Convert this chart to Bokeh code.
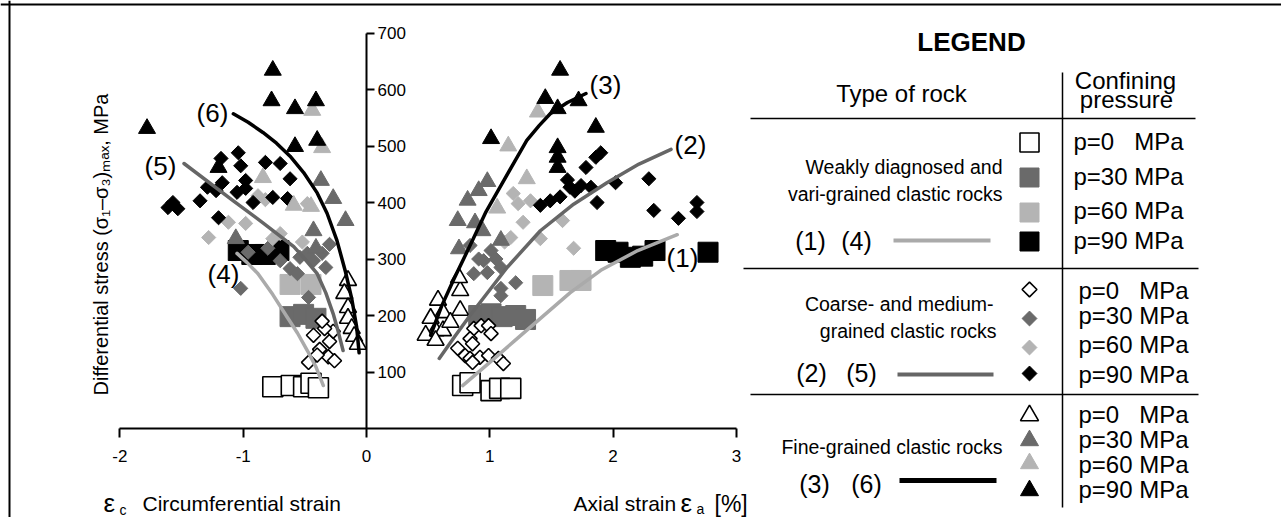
import numpy as np
from bokeh.plotting import figure
from bokeh.models import LinearAxis, FixedTicker, Range1d, Span, Label
from bokeh.core.properties import value
from bokeh.embed import file_html
from bokeh.resources import INLINE

# ---------------- data ----------------
# x: strain in %, negative = circumferential strain, positive = axial strain
# y: differential stress (sigma1 - sigma3)max in MPa
pressures = [0, 30, 60, 90]
pressure_labels = ["p=0\u00a0\u00a0\u00a0MPa", "p=30 MPa", "p=60 MPa", "p=90 MPa"]
rock_types = ["Weakly diagnosed and|vari-grained clastic rocks",
              "Coarse- and medium-|grained clastic rocks",
              "Fine-grained clastic rocks"]
x_ticks = [-2, -1, 0, 1, 2, 3]
x_tick_labels = ["-2", "-1", "0", "1", "2", "3"]
y_ticks = [100, 200, 300, 400, 500, 600, 700]

# Weakly diagnosed and vari-grained clastic rocks (squares)
sq_p0_x = [-0.76, -0.61, -0.51, -0.45, -0.39, 0.78, 0.84, 1.01, 1.08, 1.17]
sq_p0_y = [74, 76, 74, 80, 72, 76, 81, 67, 71, 71]
sq_p30_x = [-0.62, -0.51, -0.41, 0.91, 1.01, 1.10, 1.21, 1.29]
sq_p30_y = [198, 202, 195, 200, 203, 198, 200, 193]
sq_p60_x = [-0.62, -0.45, 1.43, 1.65, 1.74]
sq_p60_y = [255, 255, 253, 262, 262]
sq_p90_x = [-1.04, -0.93, -0.82, -0.71, 1.94, 2.04, 2.14, 2.24, 2.34, 2.77]
sq_p90_y = [315, 308, 308, 315, 315, 312, 303, 305, 315, 312]

# Coarse- and medium-grained clastic rocks (diamonds)
dm_p0_x = [-0.43, -0.47, -0.38, -0.31, -0.26, -0.30, -0.27, -0.34, -0.36, -0.40,
           0.87, 0.93, 0.99, 1.01, 0.84, 0.86, 0.74, 0.80, 0.84, 0.92, 0.99, 0.86, 1.07, 1.11]
dm_p0_y = [165, 117, 140, 127, 120, 154, 172, 177, 190, 130,
           177, 182, 182, 168, 159, 150, 142, 129, 124, 126, 129, 117, 124, 115]
dm_p30_x = [-1.02, -0.96, -0.80, -0.70, -0.62, -0.56, -0.54, -0.48, -0.43, -0.36, -0.47, -0.33, -0.30,
            0.84, 0.95, 0.87, 0.98, 1.09, 1.09, 1.09, 1.21, 1.01, 0.91, 1.05]
dm_p30_y = [248, 312, 319, 297, 283, 274, 303, 310, 297, 310, 232, 285, 326,
            324, 297, 274, 276, 285, 248, 235, 258, 315, 300, 300]
dm_p60_x = [-1.28, -1.12, -0.98, -0.88, -0.82, -0.70, -0.76, -0.48, -0.52,
            1.19, 1.23, 1.33, 1.27, 1.17, 1.12, 1.41, 1.59, 1.68]
dm_p60_y = [338, 365, 363, 412, 405, 345, 336, 398, 330,
            416, 398, 403, 365, 338, 330, 336, 368, 319]
dm_p90_x = [-1.61, -1.53, -1.57, -1.35, -1.29, -1.22, -1.17, -1.18, -1.04, -1.02, -1.20, -1.05,
            -0.82, -0.70, -0.62, -0.98, -0.98, -0.76, -0.64, -0.92,
            1.41, 1.49, 1.57, 1.65, 1.63, 1.74, 1.82, 1.87, 1.78, 1.86, 1.90, 2.02, 2.29, 2.33,
            2.53, 2.68, 2.68, 1.69]
dm_p90_y = [391, 389, 400, 403, 427, 421, 435, 478, 488, 465, 373, 418,
            471, 469, 442, 439, 425, 409, 407, 400,
            395, 403, 410, 427, 440, 430, 427, 400, 462, 480, 488, 435, 442, 386,
            372, 400, 384, 420]

# Fine-grained clastic rocks (triangles)
tr_p0_x = [-0.15, -0.18, -0.15, -0.15, -0.12, -0.10, -0.07,
           0.58, 0.62, 0.52, 0.76, 0.75, 0.76, 0.56, 0.48, 0.62, 0.56, 0.68]
tr_p0_y = [262, 239, 214, 195, 177, 163, 149,
           227, 205, 195, 244, 267, 209, 173, 165, 173, 156, 188]
tr_p30_x = [-0.37, -0.27, -0.17, -0.43, -0.41, -1.06,
            0.74, 0.82, 0.91, 0.98, 0.75, 0.94, 1.09, 0.88]
tr_p30_y = [439, 407, 368, 350, 319, 336,
            368, 404, 421, 437, 318, 350, 333, 364]
tr_p60_x = [-0.44, -0.36, -0.84, -0.59, -0.45, 1.39, 1.15, 1.30, 1.06]
tr_p60_y = [563, 497, 444, 395, 393, 560, 500, 442, 390]
tr_p90_x = [-1.78, -0.76, -0.77, -0.58, -0.41, -0.58, -0.40, -1.20,
            1.57, 1.45, 1.55, 1.72, 1.01, 1.86, 1.55, 1.55, 1.55]
tr_p90_y = [531, 634, 580, 566, 580, 499, 510, 462,
            634, 584, 566, 580, 513, 533, 497, 480, 462]

# fitted curves (1)...(6)
curve1_x = [0.78, 1.00, 1.20, 1.39, 1.65, 1.90, 2.20, 2.52]
curve1_y = [76, 117, 155, 191, 240, 280, 315, 343]
curve4_x = [-1.05, -0.97, -0.88, -0.76, -0.64, -0.56, -0.48, -0.41, -0.35]
curve4_y = [310, 294, 274, 237, 196, 169, 138, 109, 76]
curve2_x = [0.59, 0.72, 0.85, 1.14, 1.41, 1.68, 1.95, 2.21, 2.47]
curve2_y = [124, 164, 203, 285, 350, 397, 435, 468, 494]
curve5_x = [-1.48, -1.08, -0.84, -0.59, -0.50, -0.40, -0.33, -0.27, -0.23, -0.19]
curve5_y = [469, 403, 364, 322, 300, 274, 240, 203, 172, 138]
curve3_x = [0.52, 0.61, 0.71, 0.86, 0.97, 1.09, 1.20, 1.30, 1.40, 1.49, 1.63, 1.78]
curve3_y = [165, 217, 265, 333, 384, 430, 472, 510, 536, 557, 577, 593]
curve6_x = [-1.08, -0.96, -0.84, -0.73, -0.62, -0.51, -0.40, -0.32, -0.24, -0.17, -0.12, -0.08, -0.06]
curve6_y = [557, 542, 524, 505, 482, 453, 417, 381, 333, 277, 230, 180, 134]

# ---------------- layout helpers (page pixels -> data) ----------------
W, H = 1281, 517
X0, XS = 366.0, 123.3      # page px of x=0, px per 1 %
Y0, YS = 428.0, 0.565      # page px of y=0, px per 1 MPa


def dx(px):
    return (px - X0) / XS


def dy(py):
    return (Y0 - py) / YS


FONT = "Liberation Sans"
DG = "#6a6a6a"
LG = "#b4b4b4"
CL = {1: "#aaaaaa", 2: "#666666", 3: "#000000"}

p = figure(width=W, height=H,
           x_range=Range1d(dx(0), dx(W)),
           y_range=Range1d(dy(H), dy(0)),
           x_axis_location=None, y_axis_location=None,
           toolbar_location=None, output_backend="svg",
           min_border=0, outline_line_color=None,
           background_fill_color="white", border_fill_color="white")
p.grid.visible = False

# axes crossing at the origin
xaxis = LinearAxis(fixed_location=0, bounds=(x_ticks[0], x_ticks[-1]),
                   ticker=FixedTicker(ticks=x_ticks),
                   major_label_overrides=dict(zip(x_ticks, x_tick_labels)))
yaxis = LinearAxis(fixed_location=0, bounds=(0, y_ticks[-1]),
                   ticker=FixedTicker(ticks=y_ticks))
for ax, tout, standoff in ((xaxis, 9, 12), (yaxis, 8, 3)):
    ax.axis_line_width = 2
    ax.axis_line_color = "black"
    ax.major_tick_line_width = 2
    ax.major_tick_out = tout
    ax.major_tick_in = 0
    ax.minor_tick_out = 0
    ax.minor_tick_in = 0
    ax.major_label_text_font = FONT
    ax.major_label_text_font_size = "17px"
    ax.major_label_text_color = "black"
    ax.major_label_standoff = standoff
p.add_layout(xaxis, "below")
p.add_layout(yaxis, "right")

styles = {
    0: dict(fill_color="white", line_color="black", line_width=1.6),
    30: dict(fill_color=DG, line_color=DG, line_width=1),
    60: dict(fill_color=LG, line_color=LG, line_width=1),
    90: dict(fill_color="black", line_color="black", line_width=1),
}

squares = [(sq_p0_x, sq_p0_y), (sq_p30_x, sq_p30_y), (sq_p60_x, sq_p60_y), (sq_p90_x, sq_p90_y)]
diamonds = [(dm_p0_x, dm_p0_y), (dm_p30_x, dm_p30_y), (dm_p60_x, dm_p60_y), (dm_p90_x, dm_p90_y)]
triangles = [(tr_p0_x, tr_p0_y), (tr_p30_x, tr_p30_y), (tr_p60_x, tr_p60_y), (tr_p90_x, tr_p90_y)]

for (xs, ys), pr in zip(squares, pressures):
    p.scatter(xs, ys, marker="square", size=20, **styles[pr])
for (xs, ys), pr in zip(diamonds, pressures):
    p.scatter(xs, ys, marker="square", angle=np.pi / 4, size=10, **styles[pr])
for (xs, ys), pr in zip(triangles, pressures):
    p.scatter(xs, ys, marker="triangle", size=17, **styles[pr])

curves = [(curve1_x, curve1_y, 1), (curve4_x, curve4_y, 1),
          (curve2_x, curve2_y, 2), (curve5_x, curve5_y, 2),
          (curve3_x, curve3_y, 3), (curve6_x, curve6_y, 3)]
for xs, ys, k in curves:
    p.line(xs, ys, line_color=CL[k], line_width=3.5, line_cap="round", line_join="round")


def label(text, px, py, size, align="left", font=FONT, style="normal", angle=0.0):
    """py is the vertical centre of the text (page pixels)."""
    p.add_layout(Label(x=dx(px), y=dy(py), text=text, text_font=font,
                       text_font_size=f"{size}px", text_align=align,
                       text_baseline="middle", text_font_style=style,
                       text_color="black", angle=angle))


# curve numbers on the chart
for txt, cx, cy in (("(6)", 212, 112), ("(5)", 160, 165), ("(4)", 223, 273),
                    ("(3)", 605, 84), ("(2)", 690, 144), ("(1)", 682, 257)):
    label(txt, cx, cy, 26, align="center")

# axis titles
label("Differential stress (\u03c3\u2081\u2013\u03c3\u2083)\u2098\u2090\u2093, MPa", 100, 244, 20,
      align="center", angle=np.pi / 2)
label("\u03b5", 103, 502, 26)
label("c", 119, 509, 14)
label("Circumferential strain", 142, 503, 21)
label("Axial strain", 573, 503, 21)
label("\u03b5", 680, 502, 26)
label("a", 696, 508, 14)
label("[%]", 714, 503, 23)

# frame lines (top and left)
p.add_layout(Span(location=dy(4), dimension="width", line_color="black", line_width=2))
p.add_layout(Span(location=dx(9), dimension="height", line_color="black", line_width=2))

# ---------------- legend table ----------------
label("LEGEND", 971, 41, 26, align="center", style="bold")
label("Type of rock", 901, 93, 24, align="center")
label("Confining", 1125, 80, 24, align="center")
label("pressure", 1126, 99, 24, align="center")


def hline(x1, x2, y, color="black", width=1.5):
    p.line([dx(x1), dx(x2)], [dy(y), dy(y)], line_color=color, line_width=width)


hline(750, 1195, 118)
hline(743, 1198, 268)
hline(750, 1198, 394)
p.line([dx(1062), dx(1062)], [dy(72), dy(507)], line_color="black", line_width=1.5)

legend_rows = [
    dict(marker="square", angle=0.0, size=19, my=[142, 177, 212, 241], ty=[141, 176, 210, 240], tx=1073,
         desc=[(166, 1002), (193, 1002)], nums=[("(1)", 810), ("(4)", 856)], ny=240,
         line=(893, 990, 240, CL[1], 4)),
    dict(marker="square", angle=np.pi / 4, size=10.5, my=[289, 318, 347, 373], ty=[290, 315, 344, 374], tx=1078,
         desc=[(303, 993), (330, 996)], nums=[("(2)", 811), ("(5)", 861)], ny=372,
         line=(897, 993, 374, CL[2], 4)),
    dict(marker="triangle", angle=0.0, size=18, my=[415, 440, 463, 490], ty=[414, 439, 464, 489], tx=1078,
         desc=[(446, 1002)], nums=[("(3)", 814), ("(6)", 866)], ny=483,
         line=(899, 996, 480, CL[3], 5)),
]

for row, rock in zip(legend_rows, rock_types):
    for pr, plab, my, ty in zip(pressures, pressure_labels, row["my"], row["ty"]):
        p.scatter([dx(1029)], [dy(my)], marker=row["marker"], angle=row["angle"],
                  size=row["size"], **styles[pr])
        label(plab, row["tx"], ty, 24)
    for part, (cy, rx) in zip(rock.split("|"), row["desc"]):
        label(part, rx, cy, 19.5, align="right")
    for txt, cx in row["nums"]:
        label(txt, cx, row["ny"], 25, align="center")
    x1, x2, ly, col, lw = row["line"]
    hline(x1, x2, ly, color=col, width=lw)

open("out.html", "w").write(file_html(p, INLINE))
